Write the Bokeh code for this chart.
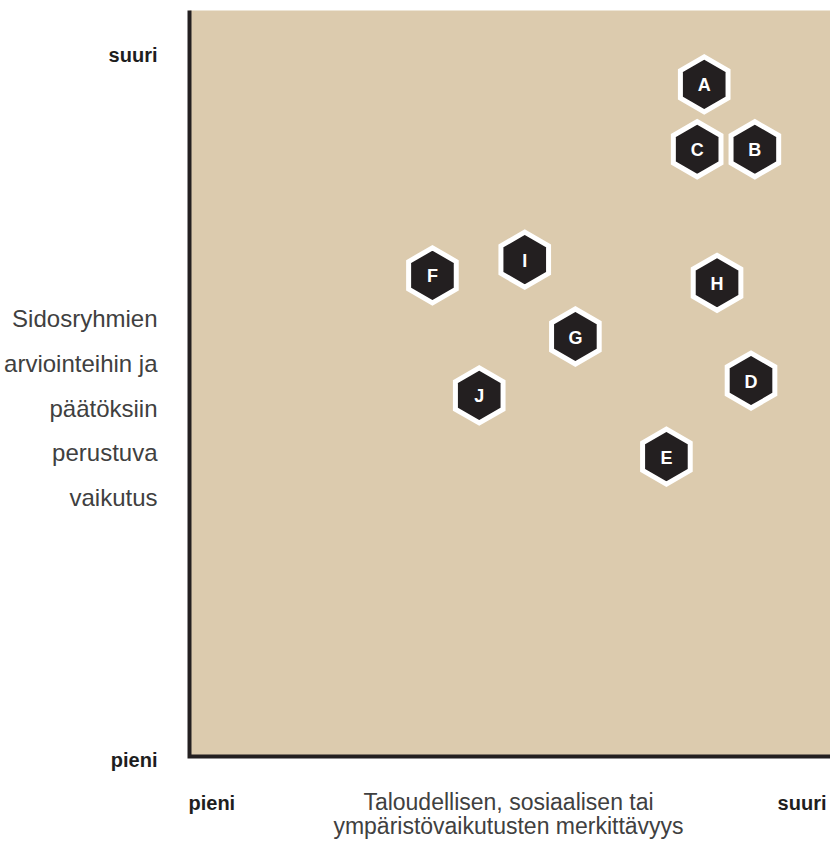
import numpy as np
from bokeh.plotting import figure
from bokeh.models import ColumnDataSource, Range1d
from bokeh.core.properties import value
from bokeh.embed import file_html
from bokeh.resources import INLINE

# ---- data ----
codes = ["A", "B", "C", "D", "E", "F", "G", "H", "I", "J"]
significance = [8.03, 8.82, 7.92, 8.76, 7.44, 3.79, 6.02, 8.23, 5.23, 4.52]   # x: 0 (pieni) .. 10 (suuri)
stakeholder = [9.01, 8.14, 8.14, 5.04, 4.02, 6.45, 5.63, 6.35, 6.66, 4.84]    # y: 0 (pieni) .. 10 (suuri)
scale_min, scale_max = 0, 10
scale_labels = ["pieni", "suuri"]
x_title = ["Taloudellisen, sosiaalisen tai", "ympäristövaikutusten merkittävyys"]
y_title = ["Sidosryhmien", "arviointeihin ja", "päätöksiin", "perustuva", "vaikutus"]

# ---- layout (canvas pixels) ----
W, H = 830, 841
PL, PR, PT, PB = 189, 830, 10, 756          # plot square edges
sx = (PR - PL) / (scale_max - scale_min)    # px per unit
sy = (PB - PT) / (scale_max - scale_min)

def X(px):
    return scale_min + (px - PL) / sx

def Y(py):
    return scale_min + (PB - py) / sy

TAN = "#DCCBAE"
DARK = "#231F20"
TXT = "#404040"
FONT = "Liberation Sans"

p = figure(width=W, height=H, output_backend="svg", toolbar_location=None,
           x_range=Range1d(X(0), X(W)), y_range=Range1d(Y(H), Y(0)),
           min_border=0, border_fill_color="white", background_fill_color="white",
           outline_line_color=None)
p.axis.visible = False
p.grid.visible = False

# plot square and its two axis lines
p.quad(left=[scale_min], right=[scale_max], bottom=[scale_min], top=[scale_max],
       fill_color=TAN, line_color=None)
p.line(x=[scale_min, scale_min, scale_max], y=[scale_max, scale_min, scale_min],
       line_color=DARK, line_width=4, line_join="miter")

# hexagon markers
src = ColumnDataSource(dict(x=significance, y=stakeholder, code=codes))
p.scatter("x", "y", source=src, marker="hex", size=55, angle=np.pi / 6,
          fill_color=DARK, line_color="white", line_width=5, line_join="miter")
p.text("x", "y", text="code", source=src, text_color="white", text_font=value(FONT),
       text_font_style="bold", text_font_size="18px", text_align="center",
       text_baseline="middle", y_offset=1)

def txt(texts, xs, ys, align, bold=False, size="23px", color=TXT):
    p.text(x=xs, y=ys, text=texts, text_align=align, text_baseline="alphabetic",
           text_font=value(FONT), text_font_style="bold" if bold else "normal",
           text_font_size=size, text_color=color)

# scale end labels
BOLD_C = "#1E1E1E"
txt([scale_labels[1], scale_labels[0]], [X(157), X(157)], [Y(54), Y(759)], "right",
    bold=True, size="20px", color=BOLD_C)
txt([scale_labels[0]], [X(188)], [Y(802)], "left", bold=True, size="20px", color=BOLD_C)
txt([scale_labels[1]], [X(826)], [Y(802)], "right", bold=True, size="20px", color=BOLD_C)

# x title
txt(x_title, [X(508)] * 2, [Y(801), Y(825)], "center", size="23px")

# y title
txt(y_title, [X(157)] * 5, [Y(318 + 44.8 * i) for i in range(5)], "right", size="24px")

open("out.html", "w").write(file_html(p, INLINE))
